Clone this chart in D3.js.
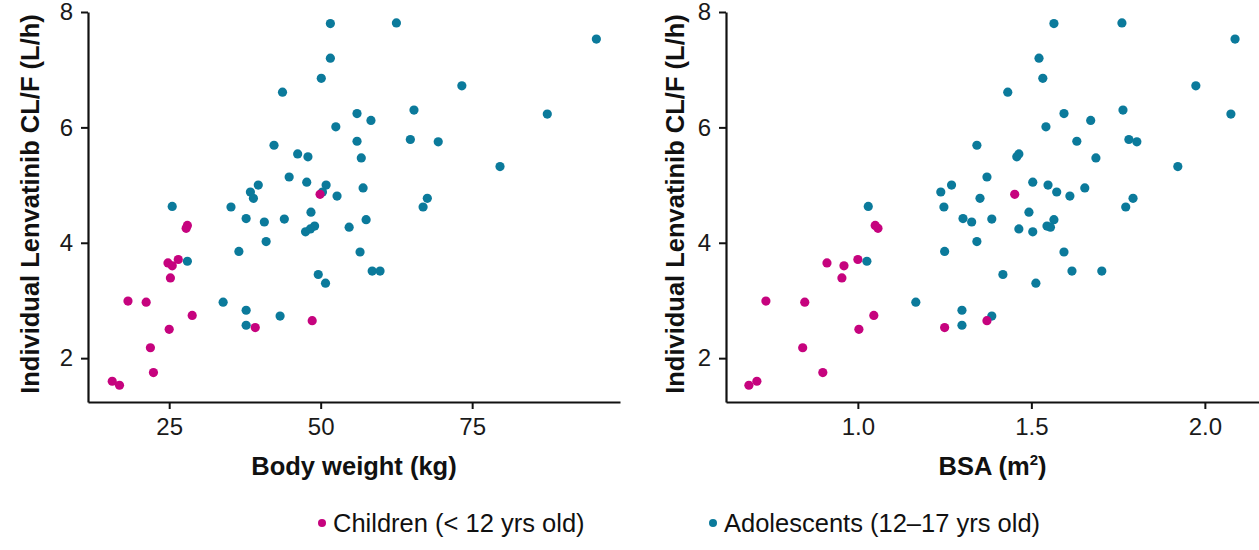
<!DOCTYPE html>
<html>
<head>
<meta charset="utf-8">
<script src="https://cdn.jsdelivr.net/npm/d3@7"></script>
<style>
  body { margin: 0; background: #fff; }
  svg { font-family: "Liberation Sans", Arial, sans-serif; }
</style>
</head>
<body>
<svg id="chart" width="1259" height="550"></svg>
<script>
// children (< 12 yrs)
const childWeight = [15.6, 16.8, 18.2, 21.2, 21.9, 22.4, 24.8, 25.5, 25.2, 25.0, 26.5, 28.0, 27.8, 28.8, 39.2, 48.6, 49.9];
const childBsa    = [0.709, 0.686, 0.735, 0.847, 0.841, 0.899, 0.911, 0.960, 0.954, 1.003, 1.000, 1.050, 1.058, 1.046, 1.250, 1.372, 1.452];
const childCl     = [1.60, 1.53, 2.99, 2.97, 2.18, 1.75, 3.65, 3.60, 3.39, 2.50, 3.71, 4.30, 4.25, 2.74, 2.53, 2.65, 4.84];

// adolescents (12-17 yrs)
const adolWeight = [62.5, 51.6, 95.5, 51.6, 50.1, 73.3, 43.7, 65.4, 56.0, 87.4, 58.3, 52.5, 64.8, 56.0, 69.4, 42.3, 46.2, 47.9,
                    56.7, 79.6, 44.8, 47.7, 39.7, 50.9, 57.0, 38.4, 50.3, 52.7, 67.6, 38.9, 25.5, 35.2, 66.9, 48.4, 37.7, 44.0,
                    57.5, 40.7, 49.0, 54.7, 48.3, 47.5, 41.0, 36.5, 56.5, 28.0, 58.5, 59.8, 49.6, 50.8, 33.9, 37.7, 43.3, 37.7];
const adolBsa    = [1.761, 1.565, 2.087, 1.522, 1.533, 1.974, 1.432, 1.764, 1.594, 2.075, 1.671, 1.542, 1.781, 1.631, 1.804, 1.343, 1.464, 1.458,
                    1.686, 1.922, 1.372, 1.504, 1.270, 1.548, 1.654, 1.239, 1.573, 1.611, 1.793, 1.352, 1.030, 1.248, 1.772, 1.493, 1.303, 1.386,
                    1.565, 1.328, 1.545, 1.555, 1.464, 1.504, 1.343, 1.250, 1.594, 1.026, 1.617, 1.703, 1.418, 1.513, 1.167, 1.300, 1.386, 1.300];
const adolCl     = [7.81, 7.80, 7.53, 7.20, 6.85, 6.72, 6.61, 6.30, 6.24, 6.23, 6.12, 6.01, 5.79, 5.76, 5.75, 5.69, 5.54, 5.49,
                    5.47, 5.32, 5.14, 5.05, 5.00, 5.00, 4.95, 4.88, 4.88, 4.81, 4.77, 4.77, 4.63, 4.62, 4.62, 4.53, 4.42, 4.41,
                    4.40, 4.36, 4.29, 4.27, 4.24, 4.19, 4.02, 3.85, 3.84, 3.68, 3.51, 3.51, 3.45, 3.30, 2.97, 2.83, 2.73, 2.57];

const yTicks = [2, 4, 6, 8];
const weightTicks = [25, 50, 75];
const bsaTicks = [1.0, 1.5, 2.0];

const groups = [
    { label: "Children (< 12 yrs old)", color: "#C6037E", weight: childWeight, bsa: childBsa, cl: childCl },
    { label: "Adolescents (12\u201317 yrs old)", color: "#0B7A9B", weight: adolWeight, bsa: adolBsa, cl: adolCl }
];

const svg = d3.select("#chart");

const y = d3.scaleLinear().domain([1.24, 8]).range([402, 12]);

const panels = [
    { key: "weight", x: d3.scaleLinear().domain([11.6, 99.4]).range([88, 620]), ticks: weightTicks,
      fmt: d3.format("d"), title: "Body weight (kg)", left: 88, titleX: 39 },
    { key: "bsa", x: d3.scaleLinear().domain([0.62, 2.156]).range([726, 1259]), ticks: bsaTicks,
      fmt: d3.format(".1f"), title: "BSA (m", left: 726, titleX: 684 }
];

panels.forEach(p => {
    const g = svg.append("g");

    // axes
    const xAxis = g.append("g")
        .attr("transform", "translate(0,402)")
        .call(d3.axisBottom(p.x).tickValues(p.ticks).tickFormat(p.fmt).tickSize(7).tickPadding(9).tickSizeOuter(0));
    const yAxis = g.append("g")
        .attr("transform", `translate(${p.left},0)`)
        .call(d3.axisLeft(y).tickValues(yTicks).tickFormat(d3.format("d")).tickSize(7).tickPadding(8).tickSizeOuter(0));

    [xAxis, yAxis].forEach(a => {
        a.select(".domain").attr("stroke", "#111").attr("stroke-width", 2.2);
        a.selectAll(".tick line").attr("stroke", "#111").attr("stroke-width", 2);
        a.selectAll(".tick text").attr("font-size", 24).attr("fill", "#1a1a1a")
            .attr("font-family", "'Liberation Sans', Arial, sans-serif");
    });

    // axis titles
    const xt = g.append("text")
        .attr("x", (p.x.range()[0] + p.x.range()[1]) / 2)
        .attr("y", 475)
        .attr("text-anchor", "middle")
        .attr("font-size", 25.5)
        .attr("font-weight", "bold")
        .attr("fill", "#111")
        .text(p.title);
    if (p.key === "bsa") {
        xt.append("tspan").attr("font-size", 15).attr("dy", -10).text("2");
        xt.append("tspan").attr("dy", 10).text(")");
    }

    g.append("text")
        .attr("transform", `translate(${p.titleX},204) rotate(-90)`)
        .attr("text-anchor", "middle")
        .attr("font-size", 25.5)
        .attr("font-weight", "bold")
        .attr("fill", "#111")
        .text("Individual Lenvatinib CL/F (L/h)");

    // points: adolescents first, children on top
    [groups[1], groups[0]].forEach(grp => {
        g.append("g")
            .selectAll("circle")
            .data(grp.cl.map((c, i) => ({ x: grp[p.key][i], y: c })))
            .enter().append("circle")
            .attr("cx", d => p.x(d.x))
            .attr("cy", d => y(d.y))
            .attr("r", 4.6)
            .attr("fill", grp.color);
    });
});

// Legend
const legendX = [322, 713];
const legend = svg.append("g")
    .selectAll("g")
    .data(groups)
    .enter().append("g")
    .attr("transform", (d, i) => `translate(${legendX[i]},523)`);

legend.append("circle")
    .attr("r", 4)
    .attr("fill", d => d.color);

legend.append("text")
    .attr("x", 11)
    .attr("dy", "0.35em")
    .attr("font-size", 25.5)
    .attr("fill", "#111")
    .text(d => d.label);
</script>
</body>
</html>
